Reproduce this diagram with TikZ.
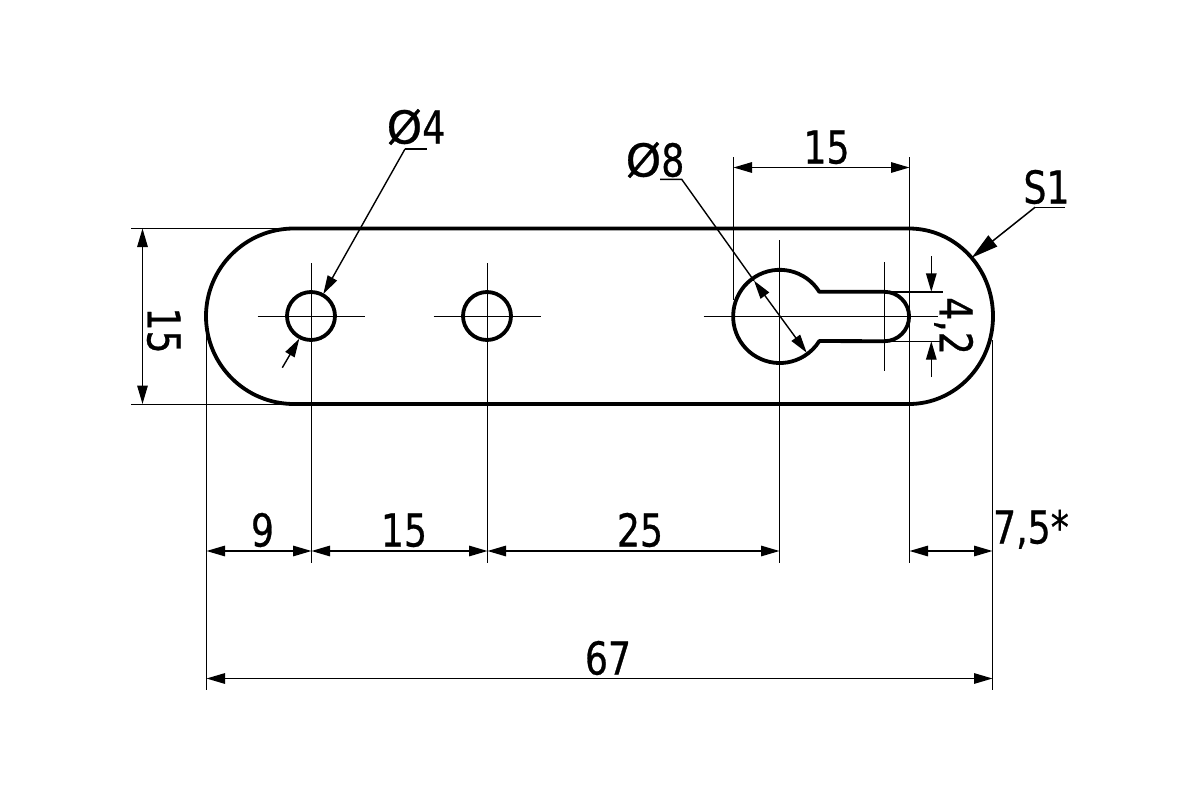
\documentclass[tikz,border=0pt]{standalone}
\usepackage{fontspec}
\setmainfont[FakeStretch=0.80,FakeBold=0.6]{DejaVu Sans}
\newfontfamily\widefont[FakeStretch=1.0,FakeBold=0.6]{DejaVu Sans}
\usetikzlibrary{arrows.meta}
\tikzset{
  thinline/.style={line width=1.4pt,draw=black},
  outline/.style={line width=3.8pt,draw=black,line join=round},
  dim/.style={thinline,{Triangle[length=18.5pt,width=10.5pt]}-{Triangle[length=18.5pt,width=10.5pt]}},
  lead/.style={thinline,-{Triangle[length=18.5pt,width=10.5pt]}},
  leadbig/.style={line width=1.5pt,draw=black,-{Triangle[length=27pt,width=14pt]}},
  label/.style={inner sep=0pt,outer sep=0pt,text height=33pt,text depth=0pt,font=\fontsize{45.3pt}{50pt}\selectfont,text=black}
}
\begin{document}
\begin{tikzpicture}[x=1pt,y=-1pt]
\useasboundingbox (0,0) rectangle (1200,800);
\fill[white] (0,0) rectangle (1200,800);
% key coordinates
\coordinate (hA) at (311,316);
\coordinate (hB) at (487,316);
% centre and extension lines
\draw[thinline] (206.5,330) -- (206.5,690);
\draw[thinline] (311.5,263) -- (311.5,563);
\draw[thinline] (487.5,263) -- (487.5,563);
\draw[thinline] (779.5,240) -- (779.5,563);
\draw[thinline] (909.5,157) -- (909.5,563);
\draw[thinline] (992.5,340) -- (992.5,690);
\draw[thinline] (733.5,157) -- (733.5,300);
\draw[thinline] (131,228.5) -- (294,228.5);
\draw[thinline] (131,404.5) -- (290,404.5);
\draw[thinline] (257.5,316.5) -- (364.5,316.5);
\draw[thinline] (433.5,316.5) -- (540.5,316.5);
\draw[thinline] (703.5,316.5) -- (938,316.5);
\draw[thinline] (884.5,262) -- (884.5,371);
\draw[thinline] (884.4,291.8) -- (943,291.8);
\draw[thinline] (884.4,341.2) -- (943,341.2);
% plate outline
\draw[outline] (294,228.5) -- (909,228.5)
  arc[start angle=-90,end angle=90,x radius=84,y radius=87.75]
  -- (294,404)
  arc[start angle=90,end angle=270,x radius=88,y radius=87.75];
% holes
\draw[outline] (hA) circle[radius=24];
\draw[outline] (hB) circle[radius=24];
\draw[outline] (819.3,291.8)
  arc[start angle=-31.9,end angle=-328.1,radius=46.6]
  -- (884.4,341.2)
  arc[start angle=90,end angle=-90,radius=24.7]
  -- cycle;
% dimension lines
\draw[dim] (142.5,228.5) -- (142.5,404);
\draw[dim] (206.5,551) -- (311.5,551);
\draw[dim] (311.5,551) -- (487.5,551);
\draw[dim] (487.5,551) -- (779.5,551);
\draw[dim] (909.5,551) -- (992.5,551);
\draw[dim] (206.5,678.5) -- (992.5,678.5);
\draw[dim] (733.5,167.5) -- (909.5,167.5);
\draw[lead] (931.3,256) -- (931.3,291.8);
\draw[lead] (931.3,377) -- (931.3,341.2);
% leaders
\draw[thinline] (426.7,149) -- (405,149);
\draw[lead] (405,149) -- (323.3,294);
\draw[lead] (282.3,367.7) -- (299.3,338.7);
\draw[thinline] (660,179.3) -- (681.7,179.3) -- (754,280.7);
\draw[dim] (754,280.7) -- (806.7,352.7);
\draw[thinline] (1065,207.3) -- (1035,207.3);
\draw[leadbig] (1035,207.3) -- (971.7,257.7);
% labels
\node[label] (d4) at (416,127) {{\widefont Ø}4};
\node[label] (d8) at (655,160) {{\widefont Ø}8};
\node[label] (top15) at (826.5,147) {15};
\node[label] (s1) at (1046.5,187) {S1};
\node[label,rotate=-90] (left15) at (164,330.5) {15};
\node[label,rotate=-90] (slot42) at (956,326) {4,2};
\node[label] (nine) at (262.5,530) {9};
\node[label] (mid15) at (404,530) {15};
\node[label] (tw5) at (640,530) {25};
\node[label] (six7) at (608,658) {67};
\node[label] (sev5) at (1031,527) {7,5*};
\end{tikzpicture}
\end{document}
